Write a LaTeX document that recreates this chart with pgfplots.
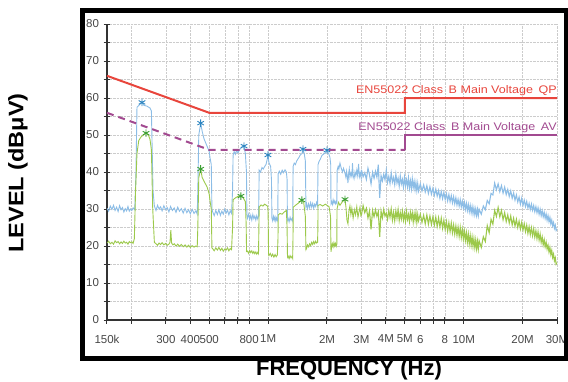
\documentclass[border=0pt]{standalone}
\usepackage{pgfplots}
\pgfplotsset{compat=1.18}
\usepackage{pgfplotstable}
\usepackage{graphicx}
\usepackage{fontspec}
\setmainfont{Liberation Sans}
\definecolor{qpred}{HTML}{E8453C}
\definecolor{avpur}{HTML}{A24A90}
\definecolor{bltr}{HTML}{8CBDE6}
\definecolor{grtr}{HTML}{9CC94B}
\definecolor{blstar}{HTML}{2E86C1}
\definecolor{grstar}{HTML}{3DA035}

\pgfplotstableread{
f b g
3.00 40.6 28.4
3.06 38.7 30.9
3.12 39.8 29.0
3.18 38.0 30.2
3.24 41.0 27.6
3.30 39.2 29.5
3.36 36.8 24.5
3.42 39.9 29.6
3.48 38.3 27.9
3.54 40.2 29.8
3.60 38.6 28.0
3.66 42.0 29.3
3.72 33.0 22.5
3.78 39.0 29.4
3.84 37.6 27.6
3.90 39.4 29.9
3.96 37.9 28.1
4.02 40.5 28.9
4.08 37.2 27.2
4.14 38.8 29.6
4.20 36.9 27.8
4.26 39.7 30.0
4.32 37.3 27.0
4.38 38.5 29.1
4.44 36.6 26.8
4.50 39.4 29.5
4.56 37.0 27.5
4.62 38.3 29.8
4.68 36.2 26.9
4.74 38.9 29.0
4.80 36.8 27.3
4.86 38.0 29.4
4.92 35.9 27.0
4.98 38.6 28.8
5.04 36.4 26.7
5.10 37.9 29.3
5.16 36.0 27.2
5.22 38.4 28.5
5.28 35.7 26.6
5.34 37.6 29.1
5.40 35.5 27.4
5.46 38.1 28.9
5.52 35.8 26.5
5.58 37.4 28.7
5.64 35.3 27.0
5.70 37.2 29.0
5.76 35.0 26.4
5.82 36.9 28.5
5.88 34.9 26.8
6.00 36.8 28.6
6.12 34.9 26.4
6.24 36.5 28.3
6.36 34.6 26.0
6.48 36.3 28.4
6.60 34.2 25.9
6.72 36.0 28.1
6.84 34.0 25.8
6.96 35.6 27.9
7.08 33.7 25.6
7.20 35.4 27.8
7.32 33.5 25.3
7.44 35.0 27.6
7.56 32.9 25.2
7.68 34.7 27.5
7.80 32.8 24.8
7.92 34.5 27.0
8.04 32.6 24.5
8.16 34.1 26.6
8.28 32.2 24.0
8.40 33.9 26.3
8.52 32.0 23.9
8.64 33.6 26.2
8.76 31.7 23.6
8.88 33.3 25.7
9.00 31.4 23.2
9.12 33.0 25.4
9.24 31.1 22.9
9.36 32.6 25.1
9.48 30.8 22.6
9.60 32.5 25.0
9.72 30.6 22.3
9.84 32.1 24.5
9.96 30.3 21.9
10.08 31.8 24.0
10.20 29.9 21.5
10.32 31.5 23.6
10.44 29.6 21.0
10.56 31.2 23.2
10.68 29.3 20.6
10.80 30.9 22.8
10.92 29.0 20.3
11.04 30.6 22.4
11.16 28.7 19.9
11.28 30.3 22.0
11.40 28.5 19.6
11.52 30.0 21.6
11.64 28.3 19.3
11.76 29.9 21.3
11.88 28.2 19.2
12.00 29.9 21.4
12.30 28.6 19.6
12.60 30.8 22.5
12.90 29.8 21.2
13.20 32.3 25.5
13.50 31.4 23.6
13.80 34.2 27.2
14.10 33.8 25.9
14.40 37.0 29.6
14.70 35.2 28.0
15.00 36.8 30.4
15.30 34.7 27.9
15.60 36.3 29.6
15.90 34.3 27.1
16.20 35.9 29.0
16.50 33.9 26.6
16.80 35.3 28.4
17.10 33.4 26.2
17.40 34.9 28.1
17.70 32.9 25.7
18.00 34.3 27.5
18.30 32.4 25.4
18.60 33.8 27.2
18.90 31.9 25.0
19.20 33.2 26.7
19.50 31.3 24.6
19.80 32.9 26.4
20.10 31.0 24.3
20.40 32.4 26.0
20.70 30.7 23.9
21.00 32.0 25.6
21.30 30.3 23.4
21.60 31.5 25.2
21.90 29.9 23.1
22.20 31.3 24.9
22.50 29.7 22.8
22.80 30.9 24.6
23.10 29.3 22.4
23.40 30.6 24.1
23.70 29.0 22.0
24.00 30.3 23.8
24.30 28.6 21.6
24.60 29.9 23.2
24.90 28.2 21.0
25.20 29.5 22.4
25.50 27.9 20.3
25.80 29.1 21.7
26.10 27.5 19.8
26.40 28.6 21.0
26.70 27.0 19.2
27.00 28.2 20.2
27.30 26.6 18.4
27.60 27.7 19.6
27.90 26.0 17.7
28.20 27.0 18.8
28.50 25.5 16.9
28.80 26.3 17.8
29.10 24.8 16.0
29.40 25.6 16.8
29.70 24.2 15.1
30.00 24.6 15.5
}\hf

\begin{document}
\begin{tikzpicture}
\path[use as bounding box] (0pt,0pt) rectangle (568pt,381pt);
\begin{axis}[
  at={(107pt,61pt)}, anchor=south west,
  scale only axis, width=450pt, height=296pt,
  xmode=log, xmin=0.15, xmax=30, ymin=0, ymax=80,
  axis lines=left,
  axis line style={-, line width=1.1pt, color=black!80},
  xtick={0.15,0.2,0.3,0.4,0.5,0.6,0.7,0.8,1,2,3,4,5,6,7,8,10,20,30},
  xticklabels={150k,,300,400,500,,,800,1M,2M,3M,4M,5M,6,,8,10M,20M,30M},
  xminorticks=false,
  ytick={0,10,...,80}, minor ytick={5,15,...,75},
  tick align=center, major tick length=7pt, minor tick length=7pt,
  every tick/.style={black!80, line width=1pt},
  xmajorgrids=true, ymajorgrids=true, yminorgrids=true,
  major grid style={densely dotted, black!20},
  minor grid style={densely dotted, black!20},
  /pgf/number format/assume math mode=true,
  ticklabel style={font=\fontsize{11.5}{13}\selectfont, text=black!72},
  xticklabel style={yshift=-8pt},
  yticklabel style={xshift=-1pt},
]
% blue (peak) trace, low frequencies
\addplot[bltr, line width=0.9pt] coordinates {
(0.150,30.2)(0.153,29.4)(0.156,30.8)(0.159,29.9)(0.162,31.0)(0.165,29.6)(0.168,30.5)(0.171,29.3)(0.174,30.9)(0.177,29.8)(0.180,30.4)(0.183,29.2)(0.186,30.1)(0.189,29.5)(0.192,30.7)(0.195,29.4)(0.198,30.0)(0.201,29.6)(0.204,30.3)(0.208,29.8)
(0.211,40)(0.2135,57.5)(0.220,58.2)(0.2265,58.8)(0.232,58.0)(0.240,57.8)(0.2489,57.3)(0.253,56.5)(0.2579,35)
(0.262,30.8)(0.267,29.6)(0.272,31.0)(0.277,30.0)(0.282,30.6)(0.287,29.5)(0.293,30.9)(0.299,29.8)(0.305,30.4)(0.311,29.2)(0.317,30.7)(0.324,29.6)(0.331,30.3)(0.338,29.1)(0.345,30.5)(0.352,29.4)(0.360,30.1)(0.368,28.9)(0.376,30.2)(0.384,29.0)(0.392,29.8)(0.400,28.7)(0.409,29.9)(0.418,28.8)(0.427,29.5)(0.434,28.6)
(0.437,35)(0.442,50)(0.452,53.2)(0.460,51)(0.470,49)(0.487,47)(0.500,45.5)(0.504,44)(0.512,42)(0.516,30)
(0.520,29.3)(0.530,28.2)(0.540,29.6)(0.550,28.5)(0.560,29.8)(0.570,28.3)(0.580,29.4)(0.590,28.6)(0.600,30.0)(0.610,28.9)(0.620,29.7)(0.630,28.4)(0.640,29.5)(0.650,28.8)
(0.658,35)(0.662,44.5)(0.670,45.5)(0.680,44.8)(0.690,45.8)(0.700,45.2)(0.715,46.0)(0.726,46.5)(0.740,47.0)(0.753,46.8)(0.765,45)(0.775,40)(0.779,28.5)
(0.785,27.5)(0.795,28.6)(0.805,27.2)(0.815,28.3)(0.825,27.0)(0.835,28.5)(0.845,27.4)(0.855,28.1)(0.865,27.0)(0.875,28.2)(0.885,27.3)(0.893,28.0)
(0.897,34)(0.900,40.5)(0.915,40.0)(0.930,41.2)(0.945,40.8)(0.960,41.5)(0.975,42.0)(0.990,43.5)(0.998,44.6)(1.010,42.5)(1.030,41.5)(1.040,38)(1.046,27.5)
(1.055,26.8)(1.065,28.0)(1.075,27.0)(1.085,27.9)(1.095,26.7)(1.105,27.6)(1.115,26.9)(1.120,27.5)
(1.125,39.5)(1.140,40.2)(1.160,39.4)(1.180,40.5)(1.200,39.8)(1.220,40.6)(1.240,40.0)(1.250,38)(1.255,27)
(1.265,27.5)(1.280,26.5)(1.295,27.8)(1.310,26.9)(1.325,27.4)(1.335,26.8)
(1.342,41.5)(1.360,42.4)(1.380,42.0)(1.400,43.0)(1.420,43.5)(1.440,44.0)(1.460,44.6)(1.489,45.0)(1.507,46.2)(1.530,45.0)(1.550,43)(1.561,30.5)
(1.575,31.3)(1.590,30.1)(1.610,31.4)(1.630,30.3)(1.650,31.7)(1.670,30.5)(1.690,31.5)(1.710,30.2)(1.730,31.3)(1.750,30.7)(1.770,31.8)(1.790,30.9)
(1.800,42.0)(1.820,42.8)(1.850,43.5)(1.885,44.5)(1.920,44.8)(1.960,45.2)(2.000,45.7)(2.040,45.0)(2.070,44)(2.090,42)(2.096,31.5)
(2.110,32.0)(2.130,31.2)(2.150,32.5)(2.170,31.6)(2.190,32.2)(2.210,31.4)(2.230,32.0)(2.245,31.6)
(2.255,40.5)(2.280,41.5)(2.300,40.8)(2.330,42.4)(2.360,41.2)(2.400,40.0)(2.430,41.0)(2.472,39.7)
(2.500,38.5)(2.520,40.2)(2.540,39.0)(2.560,37.0)(2.580,39.5)(2.600,40.8)(2.620,38.6)(2.650,39.8)(2.680,38.8)(2.700,42.4)(2.720,39.2)(2.750,38.2)(2.780,40.0)(2.810,38.9)(2.840,40.5)(2.870,39.0)(2.900,42.2)(2.930,38.7)(2.960,39.6)(2.990,38.4)(3.00,40.6)
};
\addplot[bltr, line width=1.1pt] table[x=f,y=b]{\hf};
% green (average) trace, low frequencies
\addplot[grtr, line width=0.9pt] coordinates {
(0.150,20.8)(0.153,21.3)(0.156,20.6)(0.159,21.0)(0.162,20.5)(0.165,21.4)(0.168,20.9)(0.171,21.2)(0.174,20.6)(0.177,21.1)(0.180,20.7)(0.183,21.3)(0.186,20.8)(0.189,21.0)(0.192,20.5)(0.195,21.2)(0.198,20.9)(0.201,21.1)(0.204,20.7)
(0.207,22)(0.210,35)(0.2135,45)(0.218,48.5)(0.224,49.5)(0.2375,50.6)(0.245,49.8)(0.2489,48.8)(0.253,46)(0.257,30)(0.262,21.0)
(0.267,20.6)(0.272,20.2)(0.277,20.8)(0.282,20.4)(0.287,20.9)(0.293,20.3)(0.299,20.7)(0.305,20.2)(0.311,20.5)(0.315,21.0)(0.318,24.3)(0.321,20.8)(0.326,20.3)(0.331,20.6)(0.338,20.0)(0.345,20.5)(0.352,19.9)(0.360,20.4)(0.368,19.8)(0.376,20.3)(0.384,19.7)(0.392,20.2)(0.400,19.6)(0.409,20.1)(0.418,19.7)(0.427,20.0)(0.434,19.8)
(0.437,25)(0.442,38.5)(0.452,40.8)(0.460,38.5)(0.470,37.5)(0.487,36)(0.500,34)(0.504,32.4)(0.512,30)(0.516,19.5)
(0.520,19.3)(0.530,18.7)(0.540,19.5)(0.550,18.9)(0.560,19.6)(0.570,18.8)(0.580,19.4)(0.590,18.6)(0.600,19.2)(0.610,18.9)(0.620,19.5)(0.630,18.7)(0.640,19.3)(0.650,19.0)
(0.658,25)(0.662,32.5)(0.680,33.0)(0.700,33.4)(0.726,33.5)(0.745,33.0)(0.765,32.0)(0.772,26)(0.776,18.5)
(0.785,18.6)(0.795,18.0)(0.805,18.8)(0.815,18.2)(0.825,18.7)(0.835,18.0)(0.845,18.5)(0.855,17.9)(0.865,18.4)(0.875,17.8)(0.885,18.3)(0.893,17.9)
(0.897,25)(0.900,30.5)(0.920,31.1)(0.940,30.8)(0.960,31.3)(0.980,31.0)(0.995,30.7)(1.000,29)(1.005,17.8)
(1.010,17.4)(1.025,18.0)(1.040,17.2)(1.055,17.8)(1.070,17.0)(1.085,17.7)(1.100,17.1)(1.115,17.6)
(1.123,22)(1.127,28.4)(1.150,28.8)(1.180,28.6)(1.210,29.2)(1.240,29.6)(1.250,25)(1.256,17)
(1.265,17.3)(1.280,16.6)(1.295,17.4)(1.310,16.8)(1.325,17.2)(1.335,16.7)
(1.340,22)(1.345,30.5)(1.380,31.0)(1.420,31.5)(1.460,32.0)(1.489,32.4)(1.520,31.8)(1.550,28)(1.561,19)
(1.575,19.4)(1.590,20.3)(1.610,19.8)(1.630,20.6)(1.650,20.1)(1.670,21.0)(1.690,20.4)(1.710,21.2)(1.730,20.6)(1.750,21.3)(1.770,20.8)(1.790,21.0)
(1.797,25)(1.800,31.0)(1.850,31.2)(1.900,30.8)(1.960,31.3)(2.000,31.0)(2.050,30.6)(2.085,28)(2.096,18.4)
(2.110,19.5)(2.130,20.6)(2.150,19.8)(2.170,20.9)(2.190,20.0)(2.210,20.7)(2.230,19.9)(2.245,20.5)
(2.250,30.0)(2.290,31.8)(2.330,31.0)(2.400,32.0)(2.472,32.6)(2.500,30.5)(2.530,27.0)(2.560,26.0)(2.590,29.5)(2.620,30.8)(2.650,28.5)(2.680,30.2)(2.720,27.5)(2.760,29.8)(2.800,28.4)(2.840,30.6)(2.880,27.8)(2.920,29.4)(2.950,30.5)(2.980,28.2)(3.00,28.4)
};
\addplot[grtr, line width=1.1pt] table[x=f,y=g]{\hf};
% limit lines
\addplot[qpred, line width=2pt] coordinates {(0.15,66)(0.5,56)(5,56)(5,60)(30,60)};
\addplot[avpur, line width=2pt, dash pattern=on 7pt off 5pt] coordinates {(0.15,56)(0.5,46)(5,46)};
\addplot[avpur, line width=1.4pt] coordinates {(5,46)(5,50)(30,50)};
% markers
\addplot[only marks, mark=asterisk, mark size=3.8pt, blstar, line width=0.9pt] coordinates {
(0.2265,58.8)(0.452,53.2)(0.753,47.0)(0.998,44.6)(1.507,46.2)(2.000,45.9)};
\addplot[only marks, mark=asterisk, mark size=3.8pt, grstar, line width=0.9pt] coordinates {
(0.2375,50.5)(0.452,40.8)(0.726,33.5)(1.489,32.4)(2.472,32.6)};
\node[anchor=east, text=qpred, inner sep=0pt] at (axis cs:30,61.9) {\scalebox{1.14}[1]{\fontsize{11}{13}\selectfont EN55022 Class\, B Main Voltage\, QP}};
\node[anchor=east, text=avpur, inner sep=0pt] at (axis cs:30,51.9) {\scalebox{1.14}[1]{\fontsize{11}{13}\selectfont EN55022 Class\, B Main Voltage\, AV}};
\end{axis}
\draw[line width=5pt] (82.5pt,22.5pt) rectangle (566pt,370.5pt);
\node[rotate=90, font=\fontsize{21}{24}\selectfont\bfseries] at (18pt,208pt) {\scalebox{1.12}[1]{LEVEL (dBμV)}};
\node[font=\fontsize{22}{26}\selectfont\bfseries] at (349pt,11.5pt) {FREQUENCY (Hz)};
\end{tikzpicture}
\end{document}
